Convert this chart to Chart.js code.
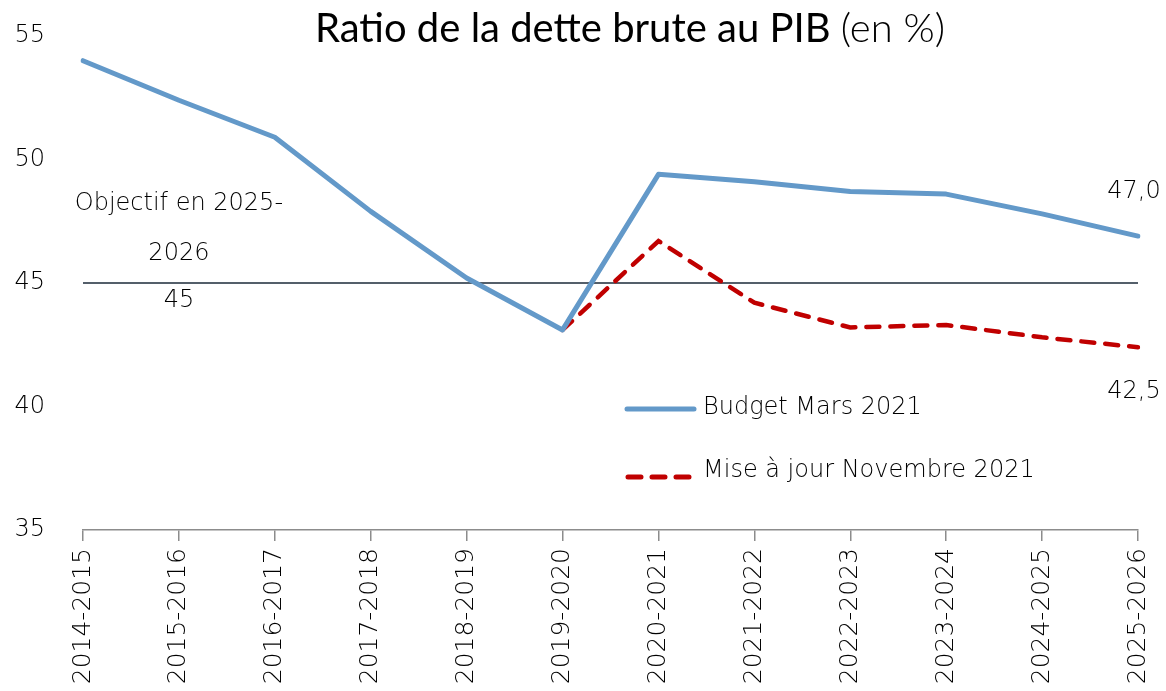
<!DOCTYPE html>
<html>
<head>
<meta charset="utf-8">
<script src="https://cdn.jsdelivr.net/npm/chart.js@4.4.0/dist/chart.umd.min.js"></script>
<style>
  body { margin: 0; background: #fff; }
  #wrap { width: 1166px; height: 691px; position: relative; }
</style>
</head>
<body>
<div id="wrap"><canvas id="dette"></canvas></div>
<script>
// Donnees du graphique
const categories = ['2014-2015','2015-2016','2016-2017','2017-2018','2018-2019','2019-2020',
                    '2020-2021','2021-2022','2022-2023','2023-2024','2024-2025','2025-2026'];
const budgetMars = [54.0, 52.4, 50.9, 47.9, 45.2, 43.1, 49.4, 49.1, 48.7, 48.6, 47.8, 46.9];
const miseAJour  = [null, null, null, null, null, 43.1, 46.7, 44.2, 43.2, 43.3, 42.8, 42.4];
const objectif   = [45, 45, 45, 45, 45, 45, 45, 45, 45, 45, 45, 45];
const yTicks     = [35, 40, 45, 50, 55];
const endLabels  = ['47,0', '42,5'];
const objectifLabel = ['Objectif en 2025-', '2026', '45'];

const FONT = "'DejaVu Sans', sans-serif";
const TFONT = "Lato, sans-serif";
const BLEU = '#6399c9';
const ROUGE = '#c00000';
const TXT = '#000';

// titre en deux graisses
const titrePlugin = {
  id: 'titre',
  afterDraw(chart) {
    const ctx = chart.ctx;
    ctx.save();
    ctx.fillStyle = '#000';
    ctx.textBaseline = 'alphabetic';
    const a = 'Ratio de la dette brute au PIB ';
    const b = '(en %)';
    ctx.font = '400 40px ' + TFONT;
    const wa = ctx.measureText(a).width;
    ctx.font = '300 40px ' + TFONT;
    const wb = ctx.measureText(b).width;
    const x0 = 630 - (wa + wb) / 2;
    ctx.font = '400 40px ' + TFONT;
    ctx.fillText(a, x0, 42);
    ctx.font = '300 40px ' + TFONT;
    ctx.fillText(b, x0 + wa, 42);
    ctx.restore();
  }
};

// etiquettes, objectif et legende
const annotPlugin = {
  id: 'annot',
  afterDatasetsDraw(chart) {
    const ctx = chart.ctx;
    const xs = chart.scales.x, ys = chart.scales.y;
    const last = categories.length - 1;
    ctx.save();
    ctx.fillStyle = TXT;
    ctx.font = '200 24px ' + FONT;
    ctx.textBaseline = 'middle';

    ctx.textAlign = 'center';
    const xl = xs.getPixelForValue(last);
    ctx.fillText(endLabels[0], xl - 4, ys.getPixelForValue(budgetMars[last]) - 44);
    ctx.fillText(endLabels[1], xl - 4, ys.getPixelForValue(miseAJour[last]) + 45);

    const xo = xs.getPixelForValue(1);
    const yo = ys.getPixelForValue(objectif[1]);
    ctx.fillText(objectifLabel[0], xo, yo - 79);
    ctx.fillText(objectifLabel[1], xo, yo - 29);
    ctx.fillText(objectifLabel[2], xo, yo + 18);

    // legende
    ctx.textAlign = 'left';
    ctx.lineCap = 'round';
    ctx.strokeStyle = BLEU;
    ctx.lineWidth = 5;
    ctx.beginPath(); ctx.moveTo(627, 409); ctx.lineTo(694, 409); ctx.stroke();
    ctx.fillText(chart.data.datasets[0].label, 703, 408);
    ctx.strokeStyle = ROUGE;
    ctx.setLineDash([13, 11]);
    ctx.beginPath(); ctx.moveTo(628, 477); ctx.lineTo(689, 477); ctx.stroke();
    ctx.setLineDash([]);
    ctx.fillText(chart.data.datasets[1].label, 703, 471);
    ctx.restore();
  }
};

new Chart(document.getElementById('dette'), {
  type: 'line',
  data: {
    labels: categories,
    datasets: [
      { label: 'Budget Mars 2021', data: budgetMars, borderColor: BLEU, borderWidth: 5,
        pointRadius: 0, tension: 0, borderCapStyle: 'round', borderJoinStyle: 'round' },
      { label: 'Mise à jour Novembre 2021', data: miseAJour, borderColor: ROUGE, borderWidth: 4.5,
        borderDash: [13, 11], borderCapStyle: 'round', pointRadius: 0, tension: 0 },
      { label: 'Objectif', data: objectif, borderColor: '#1b2a38', borderWidth: 1.5,
        pointRadius: 0, tension: 0 }
    ]
  },
  options: {
    responsive: true,
    maintainAspectRatio: false,
    animation: false,
    layout: { padding: { top: 36, right: 28, left: 0, bottom: 0 } },
    plugins: { legend: { display: false }, title: { display: false }, tooltip: { enabled: false } },
    scales: {
      x: {
        offset: false,
        afterFit(s) { s.height = 161; s.paddingLeft = 0; s.paddingRight = 0; },
        grid: { drawOnChartArea: false, drawTicks: true, tickLength: 11, color: '#8c8c8c', lineWidth: 1.5 },
        border: { display: true, color: '#8c8c8c', width: 1.5 },
        ticks: { minRotation: 90, maxRotation: 90, padding: 7, color: TXT, autoSkip: false,
                 font: { family: FONT, size: 25, weight: '200' } }
      },
      y: {
        min: 35, max: 55,
        afterFit(s) { s.width = 83; s.paddingTop = 0; s.paddingBottom = 0; },
        afterBuildTicks(s) { s.ticks = yTicks.map(v => ({ value: v })); },
        grid: { display: false },
        border: { display: false },
        ticks: { padding: 30, color: TXT, font: { family: FONT, size: 24, weight: '200' } }
      }
    }
  },
  plugins: [titrePlugin, annotPlugin]
});
</script>
</body>
</html>
